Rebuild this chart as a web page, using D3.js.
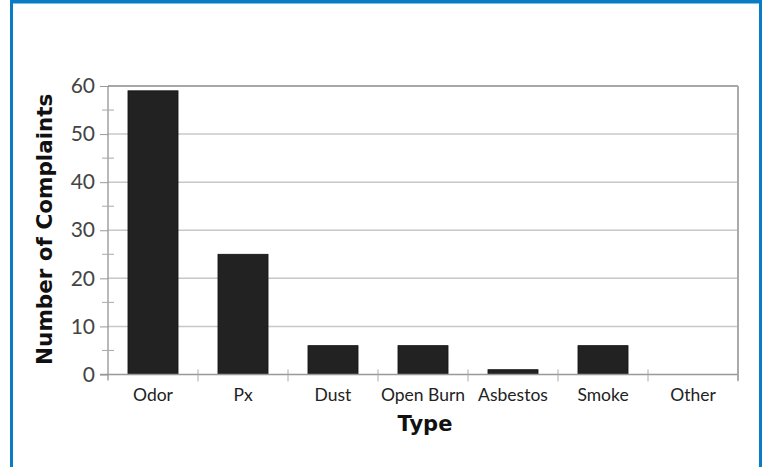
<!DOCTYPE html>
<html><head><meta charset="utf-8">
<script src="https://cdn.jsdelivr.net/npm/d3@7"></script>
<style>html,body{margin:0;padding:0;background:#fff;}svg{display:block;}</style>
</head><body>
<script>
const categories = ["Odor","Px","Dust","Open Burn","Asbestos","Smoke","Other"];
const values = [59,25,6,6,1,6,0];
const yTicks = [0,10,20,30,40,50,60];
const yMinorTicks = [5,15,25,35,45,55];

const W = 766, H = 467;
const svg = d3.select("body").append("svg").attr("width",W).attr("height",H);
svg.append("rect").attr("width",W).attr("height",H).attr("fill","#fff");

// blue frame
const blue = "#0a7cc6";
svg.append("rect").attr("x",10).attr("y",0).attr("width",752).attr("height",3.5).attr("fill",blue);
svg.append("rect").attr("x",10).attr("y",0).attr("width",3).attr("height",H).attr("fill",blue);
svg.append("rect").attr("x",759).attr("y",0).attr("width",3).attr("height",H).attr("fill",blue);

const m = {l:108, r:738, t:86, b:374.5};
const x = d3.scaleBand().domain(categories).range([m.l,m.r]).paddingInner(0.444).paddingOuter(0.222);
const y = d3.scaleLinear().domain([0,60]).range([m.b,m.t]);

// gridlines
svg.append("g").selectAll("line").data(yTicks.filter(d=>d>0 && d<60)).join("line")
  .attr("x1",m.l).attr("x2",m.r).attr("y1",d=>y(d)).attr("y2",d=>y(d))
  .attr("stroke","#c8c8c8").attr("stroke-width",1.5);
// top frame
svg.append("line").attr("x1",m.l).attr("x2",m.r).attr("y1",y(60)).attr("y2",y(60)).attr("stroke","#8a8a8a").attr("stroke-width",1.5);
// right frame
svg.append("line").attr("x1",m.r).attr("x2",m.r).attr("y1",m.t).attr("y2",m.b+6).attr("stroke","#aaa").attr("stroke-width",2);

// bars
svg.append("g").selectAll("rect").data(categories).join("rect")
  .attr("x",d=>x(d)).attr("width",x.bandwidth())
  .attr("y",(d,i)=>y(values[i])).attr("height",(d,i)=>y(0)-y(values[i]))
  .attr("fill","#222").attr("stroke","#111").attr("stroke-width",0.8);

// y axis
const yAxis = d3.axisLeft(y).tickValues(yTicks).tickSize(8).tickPadding(5);
const gy = svg.append("g").attr("transform",`translate(${m.l},0)`).call(yAxis);
gy.select(".domain").attr("stroke","#8a8a8a").attr("stroke-width",1.2).attr("d",`M0,${m.t}V${m.b+6}`);
gy.selectAll(".tick line").attr("stroke","#999").attr("stroke-width",1);
gy.selectAll(".tick text").attr("font-family","Lato, 'DejaVu Sans', sans-serif").attr("font-size",21).attr("fill","#444");
// minor ticks
svg.append("g").selectAll("line").data(yMinorTicks).join("line")
  .attr("x1",m.l-6).attr("x2",m.l+6).attr("y1",d=>y(d)).attr("y2",d=>y(d))
  .attr("stroke","#aaa").attr("stroke-width",1);

// x axis
const gx = svg.append("g").attr("transform",`translate(0,${m.b})`)
  .call(d3.axisBottom(x).tickSize(0).tickPadding(14));
gx.select(".domain").attr("stroke","#999").attr("stroke-width",1.5).attr("d",`M${m.l-8},0H${m.r}`);
gx.selectAll(".tick text").attr("font-family","Lato, 'DejaVu Sans', sans-serif").attr("font-size",17.5).attr("fill","#222");
// boundary ticks
const step = x.step();
svg.append("g").selectAll("line").data(categories).join("line")
  .attr("x1",d=>x(d)-x.paddingOuter()*step+step).attr("x2",d=>x(d)-x.paddingOuter()*step+step)
  .attr("y1",m.b-5).attr("y2",m.b+7).attr("stroke","#aaa").attr("stroke-width",1);

// titles
svg.append("text").attr("x",(m.l+m.r)/2+2).attr("y",431).attr("text-anchor","middle")
  .attr("font-family","'DejaVu Sans', sans-serif").attr("font-weight","bold").attr("font-size",21).attr("fill","#111").text("Type");
svg.append("text").attr("transform",`translate(52,${(m.t+m.b)/2-1}) rotate(-90)`).attr("text-anchor","middle")
  .attr("font-family","'DejaVu Sans', sans-serif").attr("font-weight","bold").attr("font-size",21.5).attr("fill","#111").text("Number of Complaints");
</script>
</body></html>
